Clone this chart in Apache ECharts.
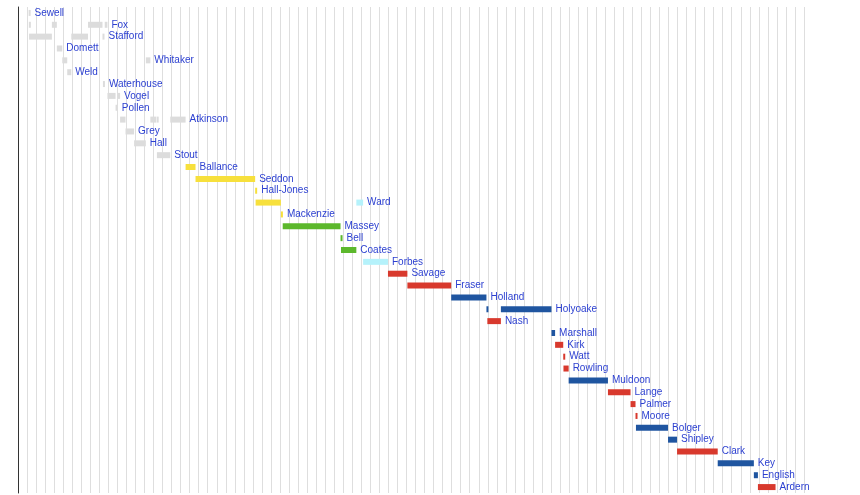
<!DOCTYPE html>
<html>
<head>
<meta charset="utf-8">
<style>
    html, body { margin: 0; padding: 0; background: #fff; }
    #chart { width: 860px; height: 495px; }
</style>
</head>
<body>
<div id="chart"></div>
<script src="https://cdn.jsdelivr.net/npm/echarts@6/dist/echarts.min.js"></script>
<script>
    // rows, top to bottom
    var names = ['Sewell', 'Fox', 'Stafford', 'Domett', 'Whitaker', 'Weld', 'Waterhouse', 'Vogel', 'Pollen',
        'Atkinson', 'Grey', 'Hall', 'Stout', 'Ballance', 'Seddon', 'Hall-Jones', 'Ward', 'Mackenzie', 'Massey',
        'Bell', 'Coates', 'Forbes', 'Savage', 'Fraser', 'Holland', 'Holyoake', 'Nash', 'Marshall', 'Kirk', 'Watt',
        'Rowling', 'Muldoon', 'Lange', 'Palmer', 'Moore', 'Bolger', 'Shipley', 'Clark', 'Key', 'English', 'Ardern'];

    // terms in office: [name, start year, end year, party]
    var terms = [
        ['Sewell', 1856.35, 1856.4, 'none'],
        ['Fox', 1856.4, 1856.45, 'none'], ['Fox', 1861.5, 1862.6, 'none'],
        ['Fox', 1869.5, 1872.7, 'none'], ['Fox', 1873.2, 1873.8, 'none'],
        ['Stafford', 1856.45, 1861.5, 'none'], ['Stafford', 1865.8, 1869.5, 'none'], ['Stafford', 1872.7, 1872.8, 'none'],
        ['Domett', 1862.6, 1863.8, 'none'],
        ['Whitaker', 1863.8, 1864.9, 'none'], ['Whitaker', 1882.3, 1883.3, 'none'],
        ['Weld', 1864.9, 1865.8, 'none'],
        ['Waterhouse', 1872.8, 1873.2, 'none'],
        ['Vogel', 1873.8, 1875.6, 'none'], ['Vogel', 1876.1, 1876.6, 'none'],
        ['Pollen', 1875.6, 1876.1, 'none'],
        ['Atkinson', 1876.6, 1877.8, 'none'], ['Atkinson', 1883.3, 1884.6, 'none'],
        ['Atkinson', 1884.7, 1884.75, 'none'], ['Atkinson', 1887.7, 1891.1, 'none'],
        ['Grey', 1877.8, 1879.7, 'none'],
        ['Hall', 1879.7, 1882.3, 'none'],
        ['Stout', 1884.75, 1887.7, 'none'],
        ['Ballance', 1891.1, 1893.3, 'liberal'],
        ['Seddon', 1893.3, 1906.5, 'liberal'],
        ['Hall-Jones', 1906.5, 1906.6, 'liberal'],
        ['Ward', 1906.6, 1912.2, 'liberal'], ['Ward', 1928.9, 1930.4, 'united'],
        ['Mackenzie', 1912.2, 1912.6, 'liberal'],
        ['Massey', 1912.6, 1925.4, 'reform'],
        ['Bell', 1925.4, 1925.5, 'reform'],
        ['Coates', 1925.5, 1928.9, 'reform'],
        ['Forbes', 1930.4, 1935.9, 'united'],
        ['Savage', 1935.9, 1940.2, 'labour'],
        ['Fraser', 1940.2, 1949.9, 'labour'],
        ['Holland', 1949.9, 1957.7, 'national'],
        ['Holyoake', 1957.7, 1957.9, 'national'], ['Holyoake', 1960.9, 1972.1, 'national'],
        ['Nash', 1957.9, 1960.9, 'labour'],
        ['Marshall', 1972.1, 1972.9, 'national'],
        ['Kirk', 1972.9, 1974.7, 'labour'],
        ['Watt', 1974.7, 1974.75, 'labour'],
        ['Rowling', 1974.75, 1975.9, 'labour'],
        ['Muldoon', 1975.9, 1984.6, 'national'],
        ['Lange', 1984.6, 1989.6, 'labour'],
        ['Palmer', 1989.6, 1990.7, 'labour'],
        ['Moore', 1990.7, 1990.8, 'labour'],
        ['Bolger', 1990.8, 1997.9, 'national'],
        ['Shipley', 1997.9, 1999.9, 'national'],
        ['Clark', 1999.9, 2008.9, 'labour'],
        ['Key', 2008.9, 2016.9, 'national'],
        ['English', 2016.9, 2017.8, 'national'],
        ['Ardern', 2017.8, 2021.7, 'labour']
    ];

    var partyColors = {
        none: '#dcdcdc', liberal: '#f7e03c', united: '#b5f2fb',
        reform: '#5cb82c', labour: '#d8392d', national: '#1f55a0'
    };

    // label goes after the last term of each person
    var lastEnd = {};
    terms.forEach(function (t) { lastEnd[t[0]] = Math.max(lastEnd[t[0]] || 0, t[2]); });

    var data = terms.map(function (t) {
        return [names.indexOf(t[0]), t[1], t[2], t[3], t[2] === lastEnd[t[0]] ? t[0] : ''];
    });

    function renderItem(params, api) {
        var row = api.value(0);
        var p0 = api.coord([api.value(1), row]);
        var p1 = api.coord([api.value(2), row]);
        var w = Math.max(p1[0] - p0[0], 2);
        var h = 6;
        var children = [{
            type: 'rect',
            shape: { x: p0[0], y: p0[1] - h / 2, width: w, height: h },
            style: { fill: partyColors[data[params.dataIndex][3]] }
        }];
        var label = data[params.dataIndex][4];
        if (label) {
            children.push({
                type: 'text',
                style: {
                    x: p0[0] + w + 4, y: p0[1], text: label,
                    fill: '#2b3fd0', font: '10px "Liberation Sans", Arial, sans-serif',
                    verticalAlign: 'middle'
                }
            });
        }
        return { type: 'group', children: children };
    }

    var chart = echarts.init(document.getElementById('chart'));
    chart.setOption({
        animation: false,
        grid: { left: 18, right: 56, top: 7, bottom: 2 },
        xAxis: {
            type: 'value', min: 1854, max: 2028, interval: 2,
            axisLabel: { show: false }, axisTick: { show: false }, axisLine: { show: false },
            splitLine: { show: true, lineStyle: { color: '#dedede', width: 1 } }
        },
        yAxis: {
            type: 'category', data: names, inverse: true,
            axisLabel: { show: false }, axisTick: { show: false },
            axisLine: { show: true, lineStyle: { color: '#333', width: 1 } }
        },
        series: [{
            type: 'custom',
            renderItem: renderItem,
            encode: { x: [1, 2], y: 0 },
            data: data
        }]
    });
</script>
</body>
</html>
